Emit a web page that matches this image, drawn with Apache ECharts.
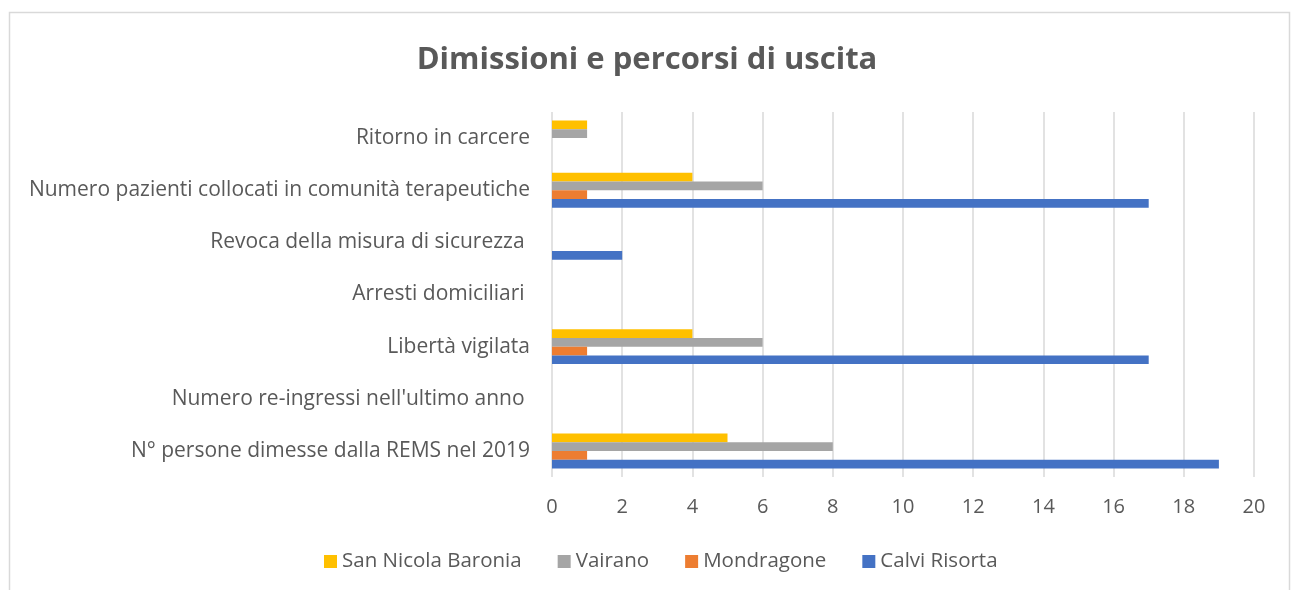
<!DOCTYPE html>
<html>
<head>
<meta charset="utf-8">
<script src="https://cdn.jsdelivr.net/npm/echarts@6/dist/echarts.min.js"></script>
<style>
    html, body { margin: 0; padding: 0; background: #fff; }
    #chart { width: 1294px; height: 590px; }
</style>
</head>
<body>
<div id="chart"></div>
<script>
// categorie (dal basso verso l'alto)
const categories = [
    'N° persone dimesse dalla REMS nel 2019',
    "Numero re-ingressi nell'ultimo anno ",
    'Libertà vigilata',
    'Arresti domiciliari ',
    'Revoca della misura di sicurezza ',
    'Numero pazienti collocati in comunità terapeutiche',
    'Ritorno in carcere'
]
const calviRisorta = [19, 0, 17, 0, 2, 17, 0]
const mondragone = [1, 0, 1, 0, 0, 1, 0]
const vairano = [8, 0, 6, 0, 0, 6, 1]
const sanNicolaBaronia = [5, 0, 4, 0, 0, 4, 1]
const xTicks = [0, 2, 4, 6, 8, 10, 12, 14, 16, 18, 20]

const textColor = '#595959'
const font = '"Open Sans", "Noto Sans", sans-serif'

let myChart = echarts.init(document.getElementById('chart'))

function bar(name, data, color) {
    return {
        name: name,
        type: 'bar',
        data: data,
        barGap: '0%',
        barCategoryGap: '33%',
        itemStyle: { color: color },
        emphasis: { disabled: true }
    }
}

let option = {
    animation: false,
    textStyle: { fontFamily: font },
    graphic: [{
        type: 'rect',
        shape: { x: 9.5, y: 12.5, width: 1280, height: 620 },
        style: { fill: 'none', stroke: '#d9d9d9', lineWidth: 1.5 },
        silent: true
    }],
    title: {
        text: 'Dimissioni e percorsi di uscita',
        left: 'center',
        top: 40,
        textStyle: { color: textColor, fontSize: 31, fontWeight: 'bold', fontFamily: font }
    },
    legend: {
        bottom: 13,
        left: 319,
        itemWidth: 13,
        itemHeight: 13,
        itemGap: 36,
        icon: 'rect',
        data: ['San Nicola Baronia', 'Vairano', 'Mondragone', 'Calvi Risorta'],
        textStyle: { color: textColor, fontSize: 20.5, fontFamily: font }
    },
    grid: {
        left: 552,
        right: 40,
        top: 112,
        bottom: 113,
        containLabel: false
    },
    xAxis: {
        type: 'value',
        min: xTicks[0],
        max: xTicks[xTicks.length - 1],
        interval: 2,
        axisLine: { show: false },
        axisTick: { show: false },
        axisLabel: { color: textColor, fontSize: 20, margin: 20, fontFamily: font },
        splitLine: { lineStyle: { color: '#d9d9d9', width: 1.5 } }
    },
    yAxis: {
        type: 'category',
        data: categories,
        axisLine: { show: false },
        axisTick: { show: false },
        axisLabel: { color: textColor, fontSize: 21, margin: 22, fontFamily: font }
    },
    // la prima serie viene disegnata in alto nel gruppo
    series: [
        bar('San Nicola Baronia', sanNicolaBaronia, '#FFC000'),
        bar('Vairano', vairano, '#A5A5A5'),
        bar('Mondragone', mondragone, '#ED7D31'),
        bar('Calvi Risorta', calviRisorta, '#4472C4')
    ]
}

myChart.setOption(option)
</script>
</body>
</html>
